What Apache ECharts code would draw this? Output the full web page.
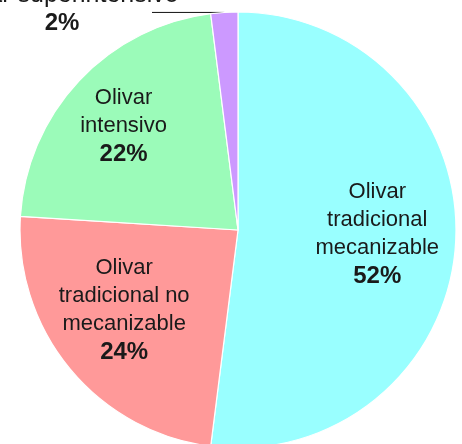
<!DOCTYPE html>
<html>
<head>
<meta charset="utf-8">
<script src="https://cdn.jsdelivr.net/npm/echarts@6/dist/echarts.min.js"></script>
<style>
html,body{margin:0;padding:0;background:#fff;}
#chart{width:462px;height:444px;}
</style>
</head>
<body>
<div id="chart"></div>
<script>
const categories = ['Olivar tradicional mecanizable', 'Olivar tradicional no mecanizable', 'Olivar intensivo', 'Olivar superintensivo'];
const labelTexts = ['Olivar\ntradicional\nmecanizable', 'Olivar\ntradicional no\nmecanizable', 'Olivar\nintensivo', 'Olivar superintensivo'];
const values = [52, 24, 22, 2];
const colors = ['#99FFFF', '#FF9999', '#9BFBB9', '#CC99FF'];

const CX = 238, CY = 230, R = 218;
const labelFrac = [0.64, 0.63, 0.72];
const labelShift = [[0, -4], [-8, -7], [0, 4]];
const total = values.reduce((a, b) => a + b, 0);

function midAngle(i) {
  let s = 0;
  for (let k = 0; k < i; k++) s += values[k];
  return (s + values[i] / 2) / total * Math.PI * 2;
}

const chart = echarts.init(document.getElementById('chart'), null, {renderer: 'canvas'});

const FF = 'Liberation Sans, Arial, sans-serif';
const rich = {
  n: {fontSize: 22, lineHeight: 28, color: '#1a1a1a', fontFamily: FF, align: 'center'},
  p: {fontSize: 24, lineHeight: 29, color: '#1a1a1a', fontWeight: 'bold', fontFamily: FF, align: 'center'},
  n2: {fontSize: 25, lineHeight: 28, color: '#1a1a1a', fontFamily: FF, align: 'center'},
  p2: {fontSize: 24, lineHeight: 28, color: '#1a1a1a', fontWeight: 'bold', fontFamily: FF, align: 'center'}
};

const data = categories.map((name, i) => {
  const item = {name: name, value: values[i], itemStyle: {color: colors[i]}};
  if (i === 3) {
    item.label = {position: 'outside'};
    item.labelLine = {show: true, length: 0, length2: 70, lineStyle: {color: '#111', width: 1}};
  } else {
    item.label = {position: 'inside'};
    item.labelLine = {show: false};
  }
  return item;
});

chart.setOption({
  animation: false,
  series: [{
    type: 'pie',
    center: [CX, CY],
    radius: R,
    startAngle: 90,
    clockwise: true,
    avoidLabelOverlap: false,
    data: data,
    itemStyle: {borderColor: '#ffffff', borderWidth: 1.2},
    emphasis: {disabled: true},
    label: {
      show: true,
      formatter: function (p) {
        const i = p.dataIndex;
        const pct = Math.round(p.percent) + '%';
        if (i === 3) return '{n2|' + labelTexts[i] + '}\n{p2|' + pct + '}';
        return labelTexts[i].split('\n').map(l => '{n|' + l + '}').join('\n') + '\n{p|' + pct + '}';
      },
      rich: rich
    },
    labelLayout: function (params) {
      const i = params.dataIndex;
      const a = midAngle(i);
      if (i === 3) {
        const ex = CX + R * Math.sin(a), ey = CY - R * Math.cos(a);
        return {
          x: 62, y: 9, align: 'center', verticalAlign: 'middle',
          labelLinePoints: [[ex, ey], [ex - 1, ey], [152, ey]]
        };
      }
      return {
        x: CX + labelFrac[i] * R * Math.sin(a) + labelShift[i][0],
        y: CY - labelFrac[i] * R * Math.cos(a) + labelShift[i][1],
        align: 'center', verticalAlign: 'middle'
      };
    }
  }]
});
</script>
</body>
</html>
